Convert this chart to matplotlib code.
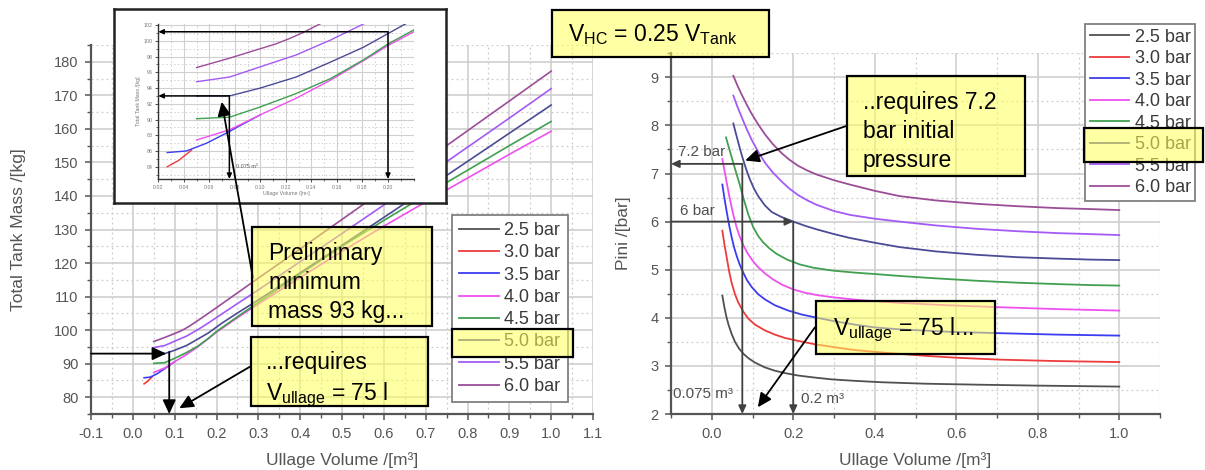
import matplotlib
matplotlib.use("Agg")
import matplotlib.pyplot as plt
from matplotlib.patches import Rectangle
from matplotlib.lines import Line2D
from matplotlib.ticker import MultipleLocator, FormatStrFormatter
import numpy as np

plt.rcParams["font.family"] = ["Liberation Sans", "DejaVu Sans"]
plt.rcParams["mathtext.fontset"] = "custom"
plt.rcParams["mathtext.rm"] = "Liberation Sans"
plt.rcParams["mathtext.it"] = "Liberation Sans:italic"
plt.rcParams["mathtext.bf"] = "Liberation Sans:bold"
plt.rcParams["axes.unicode_minus"] = False

# ---------------------------------------------------------------- data
pressure_labels = ["2.5 bar", "3.0 bar", "3.5 bar", "4.0 bar",
                   "4.5 bar", "5.0 bar", "5.5 bar", "6.0 bar"]
series_colors = ["#505050", "#ee3b3b", "#3c3cf0", "#f050f0",
                 "#40a050", "#4b4b96", "#a45af5", "#9b4d98"]

# Total tank mass [kg] over ullage volume [m3]
mass_v_30 = [0.027, 0.036, 0.046]
mass_m_30 = [84.0, 84.8, 86.1]
mass_v_35 = [0.027, 0.042, 0.058, 0.076, 0.085, 0.10]
mass_m_35 = [85.8, 86.0, 87.0, 88.5, 89.3, 90.6]
mass_v_40 = [0.05, 0.076, 0.10, 0.128, 0.155, 0.181, 0.20, 0.25, 0.3, 0.4, 0.5, 0.6, 0.75, 0.9, 1.0]
mass_m_40 = [87.4, 88.7, 90.6, 92.7, 95.0, 97.5, 99.4, 103.7, 107.8, 115.7, 123.5, 131.0, 141.8, 152.4, 159.3]
mass_v_45 = [0.05, 0.076, 0.10, 0.128, 0.155, 0.181, 0.20, 0.25, 0.3, 0.4, 0.5, 0.6, 0.75, 0.9, 1.0]
mass_m_45 = [90.1, 90.3, 91.6, 93.3, 95.2, 97.6, 99.6, 104.0, 108.3, 116.7, 125.0, 132.7, 144.0, 155.0, 162.2]
mass_v_50 = [0.05, 0.076, 0.10, 0.128, 0.155, 0.181, 0.212, 0.25, 0.3, 0.4, 0.5, 0.6, 0.75, 0.9, 1.0]
mass_m_50 = [93.0, 93.0, 94.0, 95.4, 97.3, 99.2, 102.0, 105.1, 109.0, 117.1, 125.3, 133.6, 146.1, 158.7, 167.1]
mass_v_55 = [0.05, 0.076, 0.10, 0.128, 0.155, 0.179, 0.21, 0.25, 0.3, 0.4, 0.5, 0.6, 0.75, 0.9, 1.0]
mass_m_55 = [94.8, 95.4, 96.7, 98.2, 100.1, 102.0, 104.6, 107.9, 112.0, 120.4, 128.8, 137.3, 150.2, 163.2, 172.0]
mass_v_60 = [0.05, 0.063, 0.076, 0.088, 0.10, 0.112, 0.123, 0.134, 0.145, 0.17, 0.2, 0.25,
             0.3, 0.4, 0.5, 0.6, 0.75, 0.9, 1.0]
mass_m_60 = [96.6, 97.2, 97.8, 98.4, 99.0, 99.6, 100.3, 101.1, 102.0, 104.1, 106.7, 111.1,
             115.5, 124.2, 133.0, 141.8, 155.0, 168.3, 177.2]

# Initial pressure [bar] over ullage volume [m3]
pini_v_25 = [0.026, 0.031, 0.036, 0.041, 0.049, 0.057, 0.067, 0.078, 0.09, 0.106, 0.13, 0.155,
             0.18, 0.212, 0.25, 0.294, 0.35, 0.417, 0.523, 0.65, 0.8, 1.0]
pini_p_25 = [4.46, 4.22, 4.02, 3.86, 3.66, 3.50, 3.36, 3.25, 3.16, 3.07, 2.97, 2.90,
             2.85, 2.80, 2.76, 2.72, 2.69, 2.66, 2.63, 2.61, 2.59, 2.57]
pini_v_30 = [0.026, 0.031, 0.037, 0.043, 0.049, 0.057, 0.065, 0.078, 0.09, 0.106, 0.13, 0.155,
             0.18, 0.212, 0.253, 0.3, 0.35, 0.43, 0.523, 0.6, 0.707, 0.85, 1.0]
pini_p_30 = [5.81, 5.53, 5.24, 4.95, 4.72, 4.49, 4.32, 4.12, 3.98, 3.86, 3.74, 3.65,
             3.58, 3.52, 3.45, 3.39, 3.33, 3.27, 3.21, 3.17, 3.13, 3.10, 3.08]
pini_v_35 = [0.026, 0.031, 0.037, 0.043, 0.049, 0.055, 0.061, 0.068, 0.075, 0.086, 0.098, 0.114,
             0.131, 0.155, 0.188, 0.22, 0.253, 0.3, 0.35, 0.4, 0.461, 0.58, 0.707, 0.85, 1.0]
pini_p_35 = [6.77, 6.49, 6.19, 5.91, 5.67, 5.46, 5.29, 5.12, 4.98, 4.79, 4.64, 4.49,
             4.38, 4.26, 4.15, 4.07, 4.01, 3.93, 3.86, 3.80, 3.76, 3.71, 3.68, 3.65, 3.63]
pini_v_40 = [0.026, 0.031, 0.037, 0.043, 0.049, 0.055, 0.061, 0.069, 0.078, 0.088, 0.10, 0.114,
             0.131, 0.15, 0.172, 0.2, 0.229, 0.26, 0.294, 0.36, 0.461, 0.58, 0.707, 0.85, 1.0]
pini_p_40 = [7.30, 7.07, 6.80, 6.53, 6.29, 6.07, 5.88, 5.68, 5.50, 5.34, 5.19, 5.05,
             4.92, 4.80, 4.69, 4.59, 4.52, 4.47, 4.43, 4.37, 4.31, 4.26, 4.22, 4.18, 4.15]
pini_v_45 = [0.035, 0.045, 0.057, 0.069, 0.078, 0.09, 0.102, 0.114, 0.126, 0.142, 0.159, 0.185,
             0.216, 0.25, 0.298, 0.35, 0.4, 0.461, 0.55, 0.65, 0.75, 0.85, 0.93, 1.0]
pini_p_45 = [7.75, 7.45, 7.10, 6.76, 6.48, 6.14, 5.88, 5.70, 5.57, 5.44, 5.33, 5.21,
             5.11, 5.04, 4.98, 4.94, 4.91, 4.87, 4.82, 4.77, 4.73, 4.70, 4.68, 4.67]
pini_v_50 = [0.053, 0.059, 0.065, 0.071, 0.078, 0.086, 0.094, 0.104, 0.114, 0.13, 0.147, 0.17,
             0.2, 0.23, 0.257, 0.3, 0.339, 0.4, 0.461, 0.55, 0.65, 0.75, 0.85, 0.93, 1.0]
pini_p_50 = [8.04, 7.84, 7.65, 7.46, 7.26, 7.05, 6.87, 6.68, 6.53, 6.34, 6.20, 6.10,
             6.00, 5.91, 5.84, 5.74, 5.66, 5.56, 5.47, 5.38, 5.31, 5.26, 5.23, 5.21, 5.20]
pini_v_55 = [0.053, 0.063, 0.074, 0.086, 0.098, 0.114, 0.131, 0.15, 0.172, 0.19, 0.212, 0.235,
             0.257, 0.3, 0.339, 0.4, 0.461, 0.55, 0.65, 0.75, 0.85, 0.93, 1.0]
pini_p_55 = [8.62, 8.39, 8.16, 7.92, 7.70, 7.45, 7.22, 7.02, 6.83, 6.69, 6.55, 6.44,
             6.35, 6.22, 6.14, 6.06, 6.00, 5.92, 5.85, 5.80, 5.76, 5.74, 5.72]
pini_v_60 = [0.053, 0.063, 0.074, 0.086, 0.098, 0.114, 0.131, 0.15, 0.172, 0.19, 0.212, 0.235,
             0.257, 0.3, 0.339, 0.4, 0.461, 0.55, 0.65, 0.75, 0.85, 0.93, 1.0]
pini_p_60 = [9.03, 8.83, 8.63, 8.43, 8.24, 8.02, 7.81, 7.61, 7.42, 7.29, 7.16, 7.06,
             6.98, 6.86, 6.77, 6.64, 6.53, 6.44, 6.37, 6.32, 6.28, 6.26, 6.24]

mass_series = [(1, mass_v_30, mass_m_30), (2, mass_v_35, mass_m_35),
               (3, mass_v_40, mass_m_40), (4, mass_v_45, mass_m_45),
               (5, mass_v_50, mass_m_50), (6, mass_v_55, mass_m_55),
               (7, mass_v_60, mass_m_60)]
pini_series = [(0, pini_v_25, pini_p_25), (1, pini_v_30, pini_p_30),
               (2, pini_v_35, pini_p_35), (3, pini_v_40, pini_p_40),
               (4, pini_v_45, pini_p_45), (5, pini_v_50, pini_p_50),
               (6, pini_v_55, pini_p_55), (7, pini_v_60, pini_p_60)]

# design points marked on the charts
design_volume = 0.075
design_mass = 93.0
design_pressure = 7.2
alt_volume = 0.2
alt_pressure = 6.0

# ---------------------------------------------------------------- layout
W, H = 1205, 470
fig = plt.figure(figsize=(W / 100, H / 100), dpi=100)


def fbox(x0, y0, x1, y1):
    """Pixel box (top-left origin) to figure-fraction rect."""
    return [x0 / W, 1 - y1 / H, (x1 - x0) / W, (y1 - y0) / H]


def fx(px):
    return px / W


def fy(py):
    return 1 - py / H


TICK_C = "#555555"
SPINE_C = "#555555"
GRID_C = "#cccccc"
YELLOW = (1.0, 1.0, 0.35, 0.55)


def style_axes(ax, lab_size=10.5):
    for s in ("top", "right"):
        ax.spines[s].set_visible(False)
    for s in ("left", "bottom"):
        ax.spines[s].set_color(SPINE_C)
        ax.spines[s].set_linewidth(1.6)
    ax.tick_params(which="major", direction="out", length=4, width=1.1,
                   color=SPINE_C, labelcolor=TICK_C, labelsize=lab_size, pad=5)
    ax.tick_params(which="minor", direction="out", length=3, width=1.0,
                   color=SPINE_C)
    ax.grid(which="major", color=GRID_C, lw=1.1, ls="-")
    ax.grid(which="minor", color=GRID_C, lw=0.9, ls=(0, (1.5, 2.5)))
    ax.set_axisbelow(True)


def arrow(ax, xy, xytext, lw=1.3, scale=14, color="black", **kw):
    ax.annotate("", xy=xy, xytext=xytext, annotation_clip=False,
                arrowprops=dict(arrowstyle="-|>,head_length=0.6,head_width=0.28",
                                color=color, lw=lw, shrinkA=0, shrinkB=0,
                                mutation_scale=scale), **kw)


def note(x0, y0, x1, y1, text, tx, ty, size=16.5):
    fig.add_artist(Rectangle((fx(x0), fy(y1)), (x1 - x0) / W, (y1 - y0) / H,
                             transform=fig.transFigure, facecolor=YELLOW,
                             edgecolor="black", lw=1.6, zorder=4))
    fig.text(fx(tx), fy(ty), text, fontsize=size, ha="left", va="top",
             color="black", zorder=5, linespacing=1.33)


def highlight(x0, y0, x1, y1):
    fig.add_artist(Rectangle((fx(x0), fy(y1)), (x1 - x0) / W, (y1 - y0) / H,
                             transform=fig.transFigure, facecolor=YELLOW,
                             edgecolor="black", lw=1.6, zorder=4))


legend_handles = [Line2D([], [], color=c, lw=1.3) for c in series_colors]

# ---------------------------------------------------------------- mass chart
ax_m = fig.add_axes(fbox(91, 45, 593, 414))
style_axes(ax_m)
for idx, v, m in mass_series:
    ax_m.plot(v, m, color=series_colors[idx], lw=1.2)
ax_m.set_xlim(-0.1, 1.1)
ax_m.set_ylim(75, 185)
ax_m.set_xticks(np.round(np.arange(-0.1, 1.11, 0.1), 2))
ax_m.xaxis.set_major_formatter(FormatStrFormatter("%.1f"))
ax_m.xaxis.set_minor_locator(MultipleLocator(0.05))
ax_m.set_yticks(np.arange(80, 181, 10))
ax_m.yaxis.set_minor_locator(MultipleLocator(5))
ax_m.set_xlabel("Ullage Volume /[m³]", fontsize=12.5, color=TICK_C, labelpad=8)
ax_m.set_ylabel("Total Tank Mass /[kg]", fontsize=12.5, color=TICK_C, labelpad=20)

leg_m = ax_m.legend(legend_handles, pressure_labels, loc="upper left",
                    bbox_to_anchor=(fx(452), fy(215)), bbox_transform=fig.transFigure,
                    borderaxespad=0, fancybox=False, framealpha=1, edgecolor="#808080",
                    fontsize=13, handlelength=2.2, handletextpad=0.3,
                    labelspacing=0.29, borderpad=0.4, labelcolor="#3a3a3a")
leg_m.get_frame().set_linewidth(1.3)

arrow(ax_m, (design_volume + 0.005, design_mass), (-0.1, design_mass))
arrow(ax_m, (design_volume + 0.012, 75), (design_volume + 0.012, design_mass + 0.5))
arrow(ax_m, (0.111, 76.7), (0.28, 89.1))

# zoomed view of the low-volume region
ax_frame = fig.add_axes(fbox(114, 9, 446, 203), zorder=2)
ax_frame.set_xticks([])
ax_frame.set_yticks([])
ax_frame.set_facecolor("white")
for s in ax_frame.spines.values():
    s.set_color("#222222")
    s.set_linewidth(1.8)

ax_in = fig.add_axes(fbox(158.3, 23.5, 413.5, 179), zorder=3)
ax_in.set_facecolor("none")
for s in ("top", "right"):
    ax_in.spines[s].set_visible(False)
for s in ("left", "bottom"):
    ax_in.spines[s].set_color("#333333")
    ax_in.spines[s].set_linewidth(1.0)
ax_in.tick_params(which="major", direction="out", length=2, width=0.6,
                  color="#333333", labelcolor="#777777", labelsize=3.8, pad=2)
ax_in.tick_params(which="minor", direction="out", length=1.2, width=0.5, color="#333333")
ax_in.grid(which="major", color="#d0d0d0", lw=0.8, ls="-")
ax_in.grid(which="minor", color="#d0d0d0", lw=0.7, ls=(0, (1.5, 2.5)))
ax_in.set_axisbelow(True)
for idx, v, m in mass_series:
    ax_in.plot(v, m, color=series_colors[idx], lw=1.0)
ax_in.set_xlim(0.02, 0.22)
ax_in.set_ylim(82.44, 102.2)
ax_in.set_xticks(np.round(np.arange(0.02, 0.201, 0.02), 2))
ax_in.xaxis.set_major_formatter(FormatStrFormatter("%.2f"))
ax_in.xaxis.set_minor_locator(MultipleLocator(0.01))
ax_in.set_yticks(np.arange(84, 103, 2))
ax_in.yaxis.set_minor_locator(MultipleLocator(1))
ax_in.set_xlabel("Ullage Volume /[m³]", fontsize=3.8, color="#777777", labelpad=1)
ax_in.set_ylabel("Total Tank Mass /[kg]", fontsize=3.8, color="#777777", labelpad=2)

arrow(ax_in, (0.02, design_mass), (design_volume + 0.0007, design_mass), lw=1.1, scale=5)
arrow(ax_in, (design_volume + 0.0007, 82.44), (design_volume + 0.0007, design_mass), lw=1.1, scale=5)
arrow(ax_in, (0.02, 101.15), (0.20, 101.15), lw=1.1, scale=5)
arrow(ax_in, (0.20, 82.44), (0.20, 101.15), lw=1.1, scale=5)
ax_in.text(0.081, 84.0, "0.075 m³", fontsize=4, color="#555555", va="center", ha="left")

# pointer from the note into the zoomed view
ax_in.annotate("", xy=(0.0697, 92.26), xycoords=ax_in.transData,
               xytext=(0.287, 115.6), textcoords=ax_m.transData,
               annotation_clip=False,
               arrowprops=dict(arrowstyle="-|>,head_length=0.6,head_width=0.28",
                               color="black", lw=1.3, shrinkA=0, shrinkB=0,
                               mutation_scale=14))

# ---------------------------------------------------------------- pressure chart
ax_p = fig.add_axes(fbox(671, 53.25, 1160, 414))
style_axes(ax_p)
for idx, v, p in pini_series:
    ax_p.plot(v, p, color=series_colors[idx], lw=1.3)
ax_p.set_xlim(-0.1, 1.1)
ax_p.set_ylim(2, 9.5)
ax_p.set_xticks(np.round(np.arange(0.0, 1.01, 0.2), 2))
ax_p.xaxis.set_major_formatter(FormatStrFormatter("%.1f"))
ax_p.xaxis.set_minor_locator(MultipleLocator(0.1))
ax_p.set_yticks(np.arange(2, 10, 1))
ax_p.yaxis.set_minor_locator(MultipleLocator(0.5))
ax_p.set_xlabel("Ullage Volume /[m³]", fontsize=12.5, color=TICK_C, labelpad=8)
ax_p.set_ylabel("Pini /[bar]", fontsize=12.5, color=TICK_C, labelpad=14)

leg_p = ax_p.legend(legend_handles, pressure_labels, loc="upper left",
                    bbox_to_anchor=(fx(1085), fy(24)), bbox_transform=fig.transFigure,
                    borderaxespad=0, fancybox=False, framealpha=1, edgecolor="#808080",
                    fontsize=13, handlelength=2.2, handletextpad=0.3,
                    labelspacing=0.25, borderpad=0.25, labelcolor="#3a3a3a")
leg_p.get_frame().set_linewidth(1.3)

LINE_C = "#404040"
arrow(ax_p, (-0.1, design_pressure), (design_volume, design_pressure), lw=1.3, scale=8, color=LINE_C)
arrow(ax_p, (design_volume, 2.0), (design_volume, design_pressure), lw=1.3, scale=8, color=LINE_C)
arrow(ax_p, (alt_volume, alt_pressure), (-0.1, alt_pressure), lw=1.3, scale=8, color=LINE_C)
arrow(ax_p, (alt_volume, 2.0), (alt_volume, alt_pressure), lw=1.3, scale=8, color=LINE_C)
ax_p.text(-0.082, 7.37, "7.2 bar", fontsize=11, color="#505050", va="baseline")
ax_p.text(-0.078, 6.14, "6 bar", fontsize=11, color="#505050", va="baseline")
ax_p.text(-0.094, 2.33, "0.075 m³", fontsize=11, color="#505050", va="baseline")
ax_p.text(0.22, 2.22, "0.2 m³", fontsize=11, color="#505050", va="baseline")

arrow(ax_p, (0.082, 7.27), (0.331, 7.99))
arrow(ax_p, (0.113, 2.14), (0.253, 3.80))

# ---------------------------------------------------------------- notes
note(252, 227, 432, 326, "Preliminary\nminimum\nmass 93 kg...", 268, 242)
note(251, 337, 428, 406, "...requires\n$\\mathrm{V_{ullage}}$ = 75 l", 266, 351)
note(847, 76, 1025, 176, "..requires 7.2\nbar initial\npressure", 863, 91)
note(816, 301, 995, 354, "$\\mathrm{V_{ullage}}$ = 75 l...", 833, 316)
note(552, 10, 769, 57, "$\\mathrm{V_{HC}}$ = 0.25 $\\mathrm{V_{Tank}}$", 568, 22)

highlight(452, 329, 573, 357)
highlight(1084, 128, 1203, 162)

fig.savefig("out.png", dpi=100)
